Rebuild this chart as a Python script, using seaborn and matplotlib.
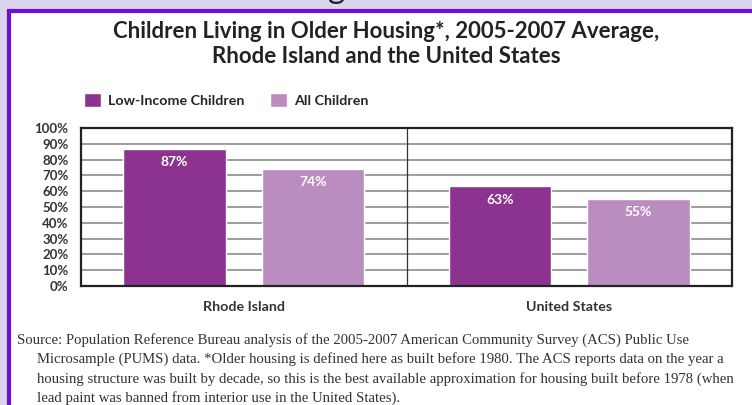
import matplotlib
matplotlib.use("Agg")
import matplotlib.pyplot as plt
from matplotlib.patches import Rectangle
import pandas as pd
import seaborn as sns

# --------------------------------------
# Chart data
# --------------------------------------
regions = ["Rhode Island", "United States"]
groups = ["Low-Income Children", "All Children"]
low_income = [87, 63]
all_children = [74, 55]
yticks = list(range(0, 101, 10))

title = ("Children Living in Older Housing*, 2005-2007 Average,\n"
         "Rhode Island and the United States")
source_lines = [
    "Source: Population Reference Bureau analysis of the 2005-2007 American Community Survey (ACS) Public Use",
    "Microsample (PUMS) data. *Older housing is defined here as built before 1980. The ACS reports data on the year a",
    "housing structure was built by decade, so this is the best available approximation for housing built before 1978 (when",
    "lead paint was banned from interior use in the United States).",
]

colors = ["#8b338f", "#bb8cc0"]

df = pd.DataFrame({
    "region": regions * 2,
    "group": [groups[0]] * 2 + [groups[1]] * 2,
    "value": low_income + all_children,
})

sns.set_style("white")
plt.rcParams["font.family"] = ["Lato", "DejaVu Sans"]

W, H = 752, 405
fig = plt.figure(figsize=(W / 100, H / 100), dpi=100, facecolor="#d8d5ec")

# white panel with purple frame (screenshot border)
fig.add_artist(Rectangle((9 / W, -0.1), 1.2, (H - 11) / H + 0.1,
                         transform=fig.transFigure, facecolor="white",
                         edgecolor="#6b0fd4", linewidth=3, zorder=0))
# cut-off glyph of the slide heading above
fig.text(337 / W, 1 + 2 / H, "g", fontsize=24, ha="center", va="baseline",
         color="#222222", zorder=-1)

ax = fig.add_axes([81 / W, 1 - 286 / H, (732 - 81) / W, (286 - 128) / H])
sns.barplot(data=df, x="region", y="value", hue="group", hue_order=groups,
            palette=colors, width=0.852, gap=0.263, saturation=1,
            ax=ax, zorder=3)

ax.set_xlim(-0.5, 1.5)
ax.set_ylim(0, 100)
ax.set_yticks(yticks)
ax.set_yticklabels([f"{t}%" for t in yticks], fontsize=9.5, fontweight="bold",
                   color="#333333")
ax.tick_params(axis="y", length=0, pad=9)
ax.tick_params(axis="x", length=0, pad=11, labelsize=10.3, labelcolor="#333333")
for lbl in ax.get_xticklabels():
    lbl.set_fontweight("bold")
ax.set_xlabel("")
ax.set_ylabel("")
ax.yaxis.grid(True, color="#8c8c8c", linewidth=1.2, zorder=0)
ax.axvline(0.5, color="#333333", linewidth=0.9, zorder=1)
for s in ax.spines.values():
    s.set_color("#222222")
    s.set_linewidth(1.6)
    s.set_zorder(4)

for cont in ax.containers:
    for p in cont:
        h = p.get_height()
        ax.annotate(f"{h:.0f}%", (p.get_x() + p.get_width() / 2, h),
                    xytext=(0, -9.5), textcoords="offset points",
                    ha="center", va="center", color="white",
                    fontsize=10, fontweight="bold", zorder=5)

handles, labels = ax.get_legend_handles_labels()
ax.legend(handles, labels, loc="center left", bbox_to_anchor=(0.004, 1.177),
          ncol=2, frameon=False, handlelength=1.2,
          handleheight=1.2, handletextpad=0.5, columnspacing=1.8,
          borderpad=0, borderaxespad=0, prop={"weight": "bold", "size": 10.3})

fig.text(386 / W, 1 - 44 / H, title, ha="center", va="center", fontsize=16,
         fontweight="bold", color="#222222", linespacing=1.2)

sy = 340
for i, line in enumerate(source_lines):
    fig.text((17 if i == 0 else 37) / W, 1 - (sy + i * 19.5) / H, line,
             ha="left", va="center", fontsize=10.6, color="#333333",
             family=["Liberation Serif", "DejaVu Serif"])

fig.savefig("out.png", dpi=100, facecolor=fig.get_facecolor())
